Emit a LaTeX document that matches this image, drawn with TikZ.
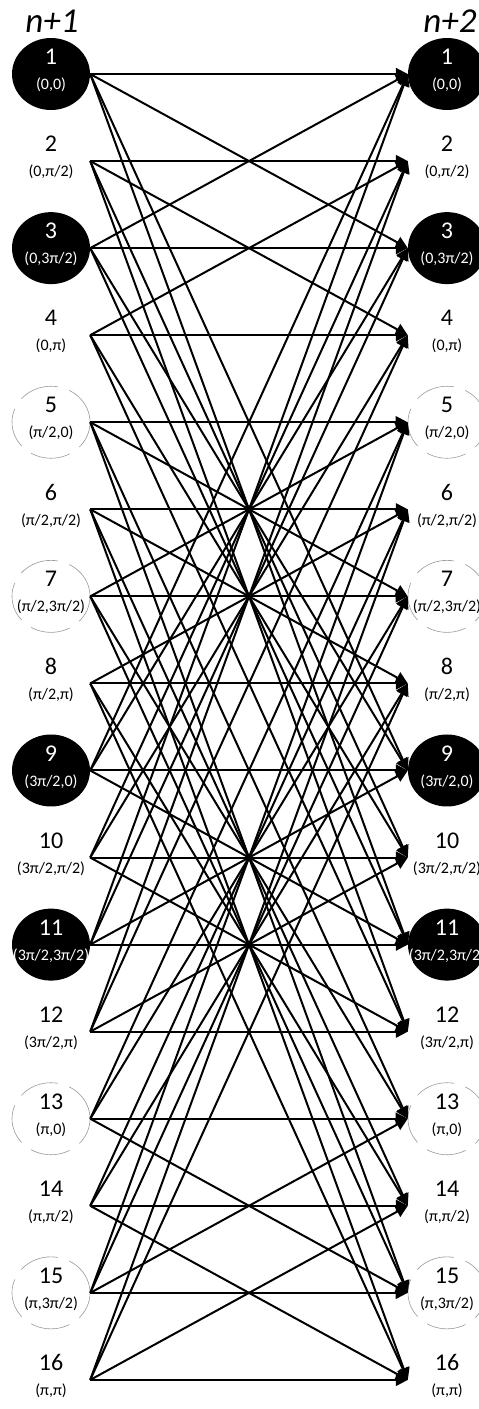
\documentclass[tikz,border=0pt]{standalone}
\usepackage{fontspec}
\setmainfont{Carlito}
\usetikzlibrary{arrows.meta, shapes.geometric}

\begin{document}
\begin{tikzpicture}[x=1pt, y=-1pt,
  state/.style={ellipse, minimum width=78pt, minimum height=72pt, inner sep=0pt},
  dark/.style={state, fill=black},
  ring/.style={state, draw=gray!80, line width=0.6pt, dash pattern=on 40pt off 12pt},
  plain/.style={state},
  lbl/.style={align=center, inner sep=0pt, yshift=3.5pt, font=\fontsize{16}{25}\selectfont},
  trans/.style={line width=2pt, -{Triangle[length=12pt, width=12pt]}},
  hdr/.style={font=\fontsize{35}{35}\selectfont\itshape}
]
\useasboundingbox (0,0) rectangle (479,1409);

\node[hdr] (h1) at (52,21) {n+1};
\node[hdr] (h2) at (450,21) {n+2};

% states at time n+1 (left) and n+2 (right)
\foreach \i/\st/\col/\tup in {1/dark/white/{(0,0)}, 2/plain/black/{(0,π/2)},
    3/dark/white/{(0,3π/2)}, 4/plain/black/{(0,π)},
    5/ring/black/{(π/2,0)}, 6/plain/black/{(π/2,π/2)},
    7/ring/black/{(π/2,3π/2)}, 8/plain/black/{(π/2,π)},
    9/dark/white/{(3π/2,0)}, 10/plain/black/{(3π/2,π/2)},
    11/dark/white/{(3π/2,3π/2)}, 12/plain/black/{(3π/2,π)},
    13/ring/black/{(π,0)}, 14/plain/black/{(π,π/2)},
    15/ring/black/{(π,3π/2)}, 16/plain/black/{(π,π)}}{
  \pgfmathsetmacro\yy{74+(\i-1)*87.06}
  \node[\st, label={[lbl, text=\col]center:{{\fontsize{24}{25}\selectfont\i}\\\tup}}] (L\i) at (51,\yy) {};
  \node[\st, label={[lbl, text=\col]center:{{\fontsize{24}{25}\selectfont\i}\\\tup}}] (R\i) at (447,\yy) {};
}

% transitions: each state feeds four states
\foreach \a in {0,...,3}
  \foreach \b in {0,...,3}
    \foreach \s in {0,2}
      \foreach \t in {0,2}{
        \pgfmathtruncatemacro\p{4*\a+\b+1}
        \pgfmathtruncatemacro\q{4*mod(\a+\s,4)+mod(\b+\t,4)+1}
        \draw[trans] (L\p.east) -- (R\q.west);
      }
\end{tikzpicture}
\end{document}
